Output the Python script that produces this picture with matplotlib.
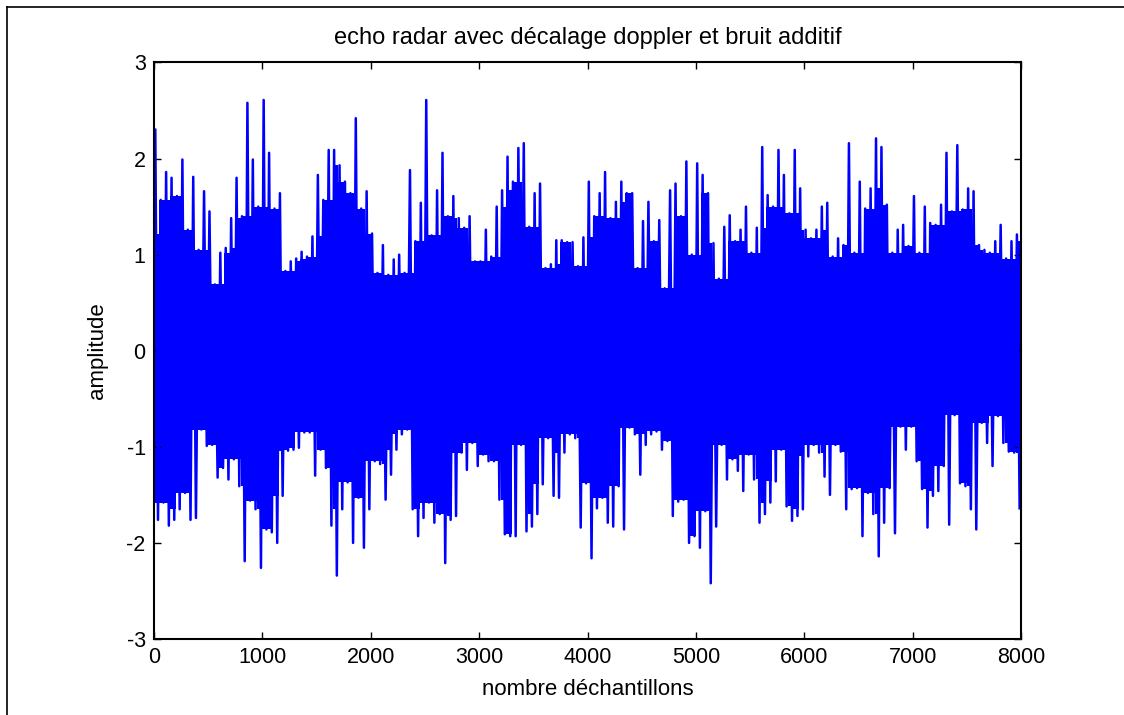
import numpy as np
import matplotlib
matplotlib.use("Agg")
import matplotlib.pyplot as plt
from matplotlib.lines import Line2D

plt.rcParams['font.family'] = ['Liberation Sans', 'DejaVu Sans']
plt.rcParams['axes.unicode_minus'] = False

# envelope of the noisy echo: max / min per block of 50 samples
bin_width = 50
upper = [2.30, 1.57, 1.86, 1.80, 1.61, 1.99, 1.26, 1.81, 1.05, 1.66,
         1.45, 0.69, 1.02, 1.07, 1.38, 1.80, 1.40, 2.58, 1.99, 1.50,
         2.61, 2.06, 1.48, 1.64, 0.83, 0.93, 0.96, 1.03, 0.98, 1.19,
         1.83, 1.57, 2.09, 2.09, 1.93, 1.76, 1.64, 2.42, 1.48, 1.66,
         1.22, 0.81, 1.10, 0.79, 0.95, 1.00, 0.81, 1.88, 1.14, 1.54,
         2.61, 1.20, 1.67, 2.06,
         1.40, 1.61, 1.38, 1.28, 1.40, 0.93, 0.93, 1.26, 0.98, 1.50,
         1.67, 2.02, 1.76, 2.11, 2.16, 1.29, 1.64, 1.74, 0.86, 0.90,
         1.15, 1.15, 1.13, 1.13, 0.88, 1.18, 1.76, 1.40, 1.64, 1.86,
         1.38, 1.55, 1.76, 1.64, 1.64, 0.86, 1.35, 1.55, 1.14, 1.36,
         0.65, 1.67, 1.74, 1.40, 1.97, 1.00, 1.95, 1.83, 1.64, 1.12,
         0.75, 1.29, 1.41, 1.14,
         1.26, 1.50, 1.02, 1.28, 2.12, 1.62, 1.50, 2.09, 1.83, 1.43,
         2.09, 1.69, 1.26, 1.17, 1.26, 1.50, 1.54, 0.98, 1.17, 1.10,
         2.16, 1.02, 1.76, 1.48, 1.69, 2.21, 2.12, 1.52, 1.02, 1.26,
         1.31, 1.09, 1.61, 1.02, 1.50, 1.33, 1.31, 1.52, 2.06, 1.45,
         2.14, 1.47, 1.69, 1.66, 1.10, 1.05, 1.02, 1.14, 1.31, 0.96,
         1.14, 1.21]
lower = [-1.76, -1.58, -1.82, -1.76, -1.65, -1.48, -1.76, -1.74, -0.82, -0.99,
         -0.98, -1.32, -1.22, -1.34, -1.13, -1.41, -2.19, -1.56, -1.65, -2.26,
         -1.86, -1.89, -2.00, -1.51, -1.04, -1.03, -1.01, -0.85, -0.85, -1.30,
         -1.03, -1.22, -1.82, -2.34, -1.65, -1.37, -2.00, -1.53, -2.05, -1.65,
         -1.15, -1.18, -1.55, -1.29, -1.03, -0.87, -0.82, -1.65, -1.93, -1.74,
         -1.58, -1.79, -1.70, -2.21,
         -1.76, -1.72, -1.06, -1.24, -0.96, -1.20, -1.08, -1.15, -1.15, -1.55,
         -1.91, -1.93, -1.93, -0.98, -1.88, -1.83, -1.70, -1.39, -0.91, -1.51,
         -1.53, -1.06, -0.87, -0.91, -1.84, -1.38, -2.16, -1.64, -1.53, -1.79,
         -1.83, -1.41, -1.86, -0.80, -0.87, -1.29, -0.98, -0.87, -0.84, -1.03,
         -0.94, -1.72, -1.57, -1.55, -2.00, -1.93, -2.05, -1.67, -2.42, -1.83,
         -0.98, -1.34, -1.13, -1.25,
         -1.46, -1.08, -1.34, -1.79, -1.70, -1.58, -1.36, -1.03, -1.62, -1.77,
         -1.72, -1.65, -1.10, -0.98, -1.06, -1.31, -1.50, -0.98, -1.05, -1.65,
         -1.44, -1.43, -1.93, -1.48, -1.70, -2.14, -1.79, -1.43, -1.90, -0.79,
         -1.03, -0.79, -1.15, -1.44, -1.84, -1.51, -1.46, -1.20, -1.81, -0.67,
         -1.38, -1.41, -1.65, -1.86, -0.75, -0.96, -1.20, -0.68, -0.96, -1.05,
         -1.06, -1.64]

xticks = [0, 1000, 2000, 3000, 4000, 5000, 6000, 7000, 8000]
yticks = [-3, -2, -1, 0, 1, 2, 3]

up = np.array(upper)
lo = np.array(lower)
n = len(up)

# signal drawn as a fast zigzag between the block maxima and minima
xs = np.empty(2 * n)
ys = np.empty(2 * n)
xs[0::2] = np.arange(n) * bin_width + 12
xs[1::2] = np.arange(n) * bin_width + 37
ys[0::2] = up
ys[1::2] = lo

# dense core: what stays covered by the neighbouring blocks
core_up = np.minimum(np.minimum(up, np.roll(up, 1)), np.roll(up, -1))
core_lo = np.maximum(np.maximum(lo, np.roll(lo, 1)), np.roll(lo, -1))
edges = np.arange(n + 1) * bin_width

fig = plt.figure(figsize=(11.24, 7.15), dpi=100)
ax = fig.add_axes([0.137, 0.1063, 0.7714, 0.8063])

ax.fill_between(edges, np.append(core_lo, core_lo[-1]), np.append(core_up, core_up[-1]),
                step='post', color='#0000ff', lw=0)
ax.plot(xs, ys, color='#0000ff', lw=1.8)

ax.set_xlim(0, 8000)
ax.set_ylim(-3, 3)
ax.set_xticks(xticks)
ax.set_yticks(yticks)
ax.tick_params(direction='in', length=5, width=1, top=True, right=True,
               labelsize=15.5, pad=6)
for s in ax.spines.values():
    s.set_linewidth(1.5)

ax.set_title('echo radar avec décalage doppler et bruit additif', fontsize=17, pad=13)
ax.set_xlabel('nombre déchantillons', fontsize=16, labelpad=8)
ax.set_ylabel('amplitude', fontsize=16, labelpad=13)

# frame of the exported figure window (left and top edges visible)
fig.add_artist(Line2D([0.0062, 0.0062], [0.0, 0.990], color='black', lw=1.2))
fig.add_artist(Line2D([0.0062, 1.0], [0.990, 0.990], color='black', lw=1.2))

fig.savefig('out.png', dpi=100)
